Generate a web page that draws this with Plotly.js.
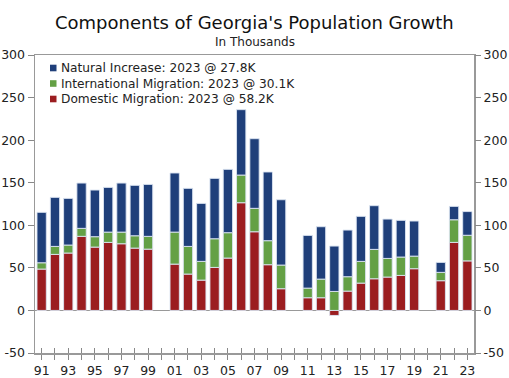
<!DOCTYPE html>
<html>
<head>
<meta charset="utf-8">
<script src="https://cdn.plot.ly/plotly-3.0.1.min.js"></script>
<style>html,body{margin:0;padding:0;background:#fff;}#chart{width:509px;height:378px;}</style>
</head>
<body>
<div id="chart"></div>
<script>
const years = [1991,1992,1993,1994,1995,1996,1997,1998,1999,2000,2001,2002,2003,2004,2005,2006,2007,2008,2009,2010,2011,2012,2013,2014,2015,2016,2017,2018,2019,2020,2021,2022,2023];
const tickLabels = ['91','','93','','95','','97','','99','','01','','03','','05','','07','','09','','11','','13','','15','','17','','19','','21','','23'];
const domestic = [48.6,65.8,67.4,87.0,74.4,79.9,78.3,73.2,72.0,null,54.4,42.7,35.6,50.5,61.5,126.5,92.4,53.7,25.5,null,14.9,14.9,-5.9,22.7,32.1,37.2,39.2,41.1,49.0,null,34.9,79.9,58.2];
const international = [7.4,9.4,9.4,9.4,12.2,12.1,13.7,14.5,15.0,null,37.6,32.5,22.0,33.7,29.8,32.5,27.5,28.2,27.8,null,11.3,21.9,22.3,16.9,25.5,34.5,21.9,21.6,14.8,null,9.8,26.6,30.1];
const natural = [59.2,57.6,54.8,53.2,54.8,52.5,57.6,59.2,61.0,null,69.4,68.2,68.1,70.9,74.4,76.8,81.8,80.7,76.7,null,61.9,61.5,53.3,54.8,52.9,51.3,46.2,43.1,41.2,null,11.7,15.7,27.8];
const seriesNames = ['Domestic Migration: 2023 @ 58.2K','International Migration: 2023 @ 30.1K','Natural Increase: 2023 @ 27.8K'];
const colors = ['#9B1D20','#64A045','#1F3F7A'];
const yTicks = [-50,0,50,100,150,200,250,300];
const yTickLabels = ['-50','0','50','100','150','200','250','300'];
const titleText = "Components of Georgia's Population Growth";
const subtitleText = 'In Thousands';

const font = 'DejaVu Sans, Verdana, sans-serif';
const W = 509, H = 378, mL = 35, mR = 35, mT = 55, mB = 25;
const pw = W - mL - mR, ph = H - mT - mB;
const px = x => (x - mL) / pw;           // pixel -> paper x
const py = y => 1 - (y - mT) / ph;       // pixel -> paper y

const vals = [domestic, international, natural];
const traces = vals.map((v,i)=>({
  type:'bar', x: years, y: v, name: seriesNames[i],
  marker:{color: colors[i], line:{color:'rgba(220,228,242,0.9)', width:1}},
  width:0.7, hoverinfo:'skip', showlegend:false
}));
traces.push({type:'scatter', x:[years[0]], y:[0], yaxis:'y2', mode:'markers', marker:{opacity:0}, showlegend:false, hoverinfo:'skip'});
traces.push({type:'scatter', x:[years[0]], y:[0], xaxis:'x2', mode:'markers', marker:{opacity:0}, showlegend:false, hoverinfo:'skip'});

// legend built from the series names / colours (top item = last series)
const legendRows = [68, 83.5, 99];
const annotations = [
  {xref:'paper', yref:'paper', x:0.5, y:py(23), xanchor:'center', yanchor:'middle', showarrow:false, text:titleText, font:{size:18, color:'#111', family:font}},
  {xref:'paper', yref:'paper', x:0.5, y:py(42), xanchor:'center', yanchor:'middle', showarrow:false, text:subtitleText, font:{size:12, color:'#222', family:font}}
];
const shapes = [];
[2,1,0].forEach((si,row)=>{
  const cy = legendRows[row];
  annotations.push({xref:'paper', yref:'paper', x:px(59), y:py(cy), xanchor:'left', yanchor:'middle', showarrow:false, text:seriesNames[si], font:{size:12.2, color:'#222', family:font}});
  shapes.push({type:'rect', xref:'paper', yref:'paper', x0:px(50), x1:px(56.5), y0:py(cy+3.3), y1:py(cy-3.3), fillcolor:colors[si], line:{width:0}});
});

const layout = {
  width:W, height:H,
  margin:{l:mL, r:mR, t:mT, b:mB},
  paper_bgcolor:'#fff', plot_bgcolor:'#fff',
  font:{family:font, color:'#222', size:12},
  barmode:'relative',
  showlegend:false,
  annotations, shapes,
  xaxis:{range:[1990.5,2023.5], tickvals:years, ticktext:tickLabels, ticks:'outside', ticklen:5, tickcolor:'#888', showgrid:false, zeroline:false, showline:true, linecolor:'#999', linewidth:1.5, mirror:true, tickfont:{size:12.5}},
  xaxis2:{overlaying:'x', range:[1990.5,2023.5], tickvals:years, ticks:'inside', ticklen:5, tickcolor:'#888', showticklabels:false, showgrid:false, zeroline:false, showline:false, side:'bottom'},
  yaxis:{range:[-50,300], tickvals:yTicks, ticktext:yTickLabels, ticks:'outside', ticklen:6, tickcolor:'#888', showgrid:false, zeroline:true, zerolinecolor:'#999', zerolinewidth:1.5, showline:true, linecolor:'#999', linewidth:1.5, mirror:true, tickfont:{size:12.5}},
  yaxis2:{overlaying:'y', side:'right', range:[-50,300], tickvals:yTicks, ticktext:yTickLabels, ticks:'outside', ticklen:6, tickcolor:'#888', showgrid:false, zeroline:false, showline:false, tickfont:{size:12.5}}
};
Plotly.newPlot('chart', traces, layout, {displayModeBar:false, staticPlot:true});
</script>
</body>
</html>
